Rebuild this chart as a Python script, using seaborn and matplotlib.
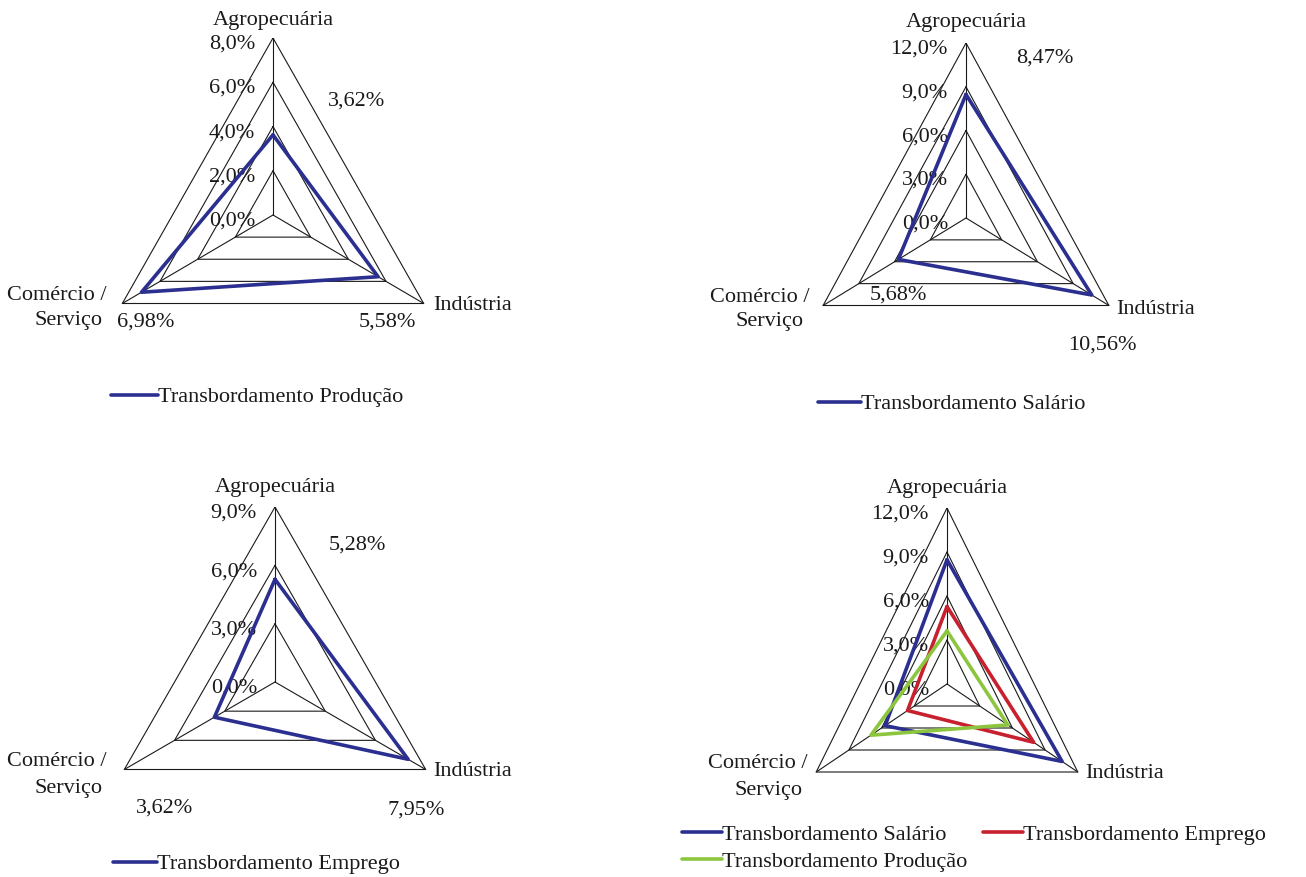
import numpy as np
import matplotlib
matplotlib.use("Agg")
import matplotlib.pyplot as plt
from matplotlib.lines import Line2D
import seaborn as sns

# ---- data -------------------------------------------------------------
categories = ["Agropecuária", "Indústria", "Comércio /\nServiço"]

producao = [3.62, 5.58, 6.98]   # Agropecuária, Indústria, Comércio / Serviço
salario = [8.47, 10.56, 5.68]
emprego = [5.28, 7.95, 3.62]

name_producao = "Transbordamento Produção"
name_salario = "Transbordamento Salário"
name_emprego = "Transbordamento Emprego"

ticks_producao = [0, 2, 4, 6, 8]
ticks_salario = [0, 3, 6, 9, 12]
ticks_emprego = [0, 3, 6, 9]
ticks_conjunto = [0, 3, 6, 9, 12]

BLUE = "#2B2F8F"
RED = "#C8202E"
GREEN = "#8CC63F"

# ---- style ------------------------------------------------------------
sns.set_theme(style="white")
plt.rcParams["font.family"] = ["Liberation Serif", "DejaVu Serif"]
FS = 16
TXT = "#1a1a1a"
plt.rcParams["font.size"] = FS

W, H = 1306, 877
fig = plt.figure(figsize=(W / 100, H / 100), dpi=100)
fig.patch.set_facecolor("white")

angles = np.deg2rad([0, 120, 240])  # clockwise from the top


def fx(x):
    return x / W


def fy(y):
    return 1 - y / H


def to_xy(values):
    v = np.asarray(values, dtype=float)
    x = v * np.sin(angles)
    y = v * np.cos(angles)
    return np.append(x, x[0]), np.append(y, y[0])


def radar_axes(cx, cy, rx, ry, ticks):
    vmax = ticks[-1]
    ax = fig.add_axes([fx(cx - rx), fy(cy + ry), 2 * rx / W, 2 * ry / H])
    ax.set_xlim(-vmax, vmax)
    ax.set_ylim(-vmax, vmax)
    ax.set_axis_off()
    # grid rings
    for t in ticks[1:]:
        gx, gy = to_xy([t, t, t])
        ax.plot(gx, gy, color="#1a1a1a", lw=0.8, zorder=1)
    # spokes
    for a in angles:
        ax.plot([0, vmax * np.sin(a)], [0, vmax * np.cos(a)],
                color="#1a1a1a", lw=0.8, zorder=1)
    # radial tick labels
    for t in ticks:
        ax.annotate(f"{t:.1f}%".replace(".", ","), xy=(0, t),
                    xytext=(-13, -4.5), textcoords="offset points",
                    ha="right", va="center", fontsize=FS, color=TXT,
                    zorder=2)
    return ax


def draw_series(ax, values, color):
    x, y = to_xy(values)
    sns.lineplot(x=x, y=y, sort=False, estimator=None, ax=ax,
                 color=color, lw=2.6, zorder=3, legend=False)


def category_labels(agro_xy, ind_xy, com_lines_xy):
    fig.text(fx(agro_xy[0]), fy(agro_xy[1]), categories[0],
             ha="center", va="center", fontsize=FS, color=TXT)
    fig.text(fx(ind_xy[0]), fy(ind_xy[1]), categories[1],
             ha="left", va="center", fontsize=FS, color=TXT)
    # the two-line label is set line by line
    for line, (px, py) in zip(categories[2].split("\n"), com_lines_xy):
        fig.text(fx(px), fy(py), line, ha="center", va="center",
                 fontsize=FS, color=TXT)


def value_labels(values, positions):
    for v, (px, py) in zip(values, positions):
        fig.text(fx(px), fy(py), f"{v:.2f}%".replace(".", ","),
                 ha="center", va="center", fontsize=FS, color=TXT)


def legend(entries, x, y, handlelength, ncol=1, columnspacing=0.7):
    handles = [Line2D([], [], color=c, lw=2.6) for _, c in entries]
    names = [n for n, _ in entries]
    leg = fig.legend(handles, names, loc="center left",
                     bbox_to_anchor=(fx(x), fy(y)),
                     bbox_transform=fig.transFigure,
                     frameon=False, fontsize=FS, handlelength=handlelength,
                     handletextpad=0.0, borderpad=0, borderaxespad=0,
                     ncol=ncol, columnspacing=columnspacing, labelspacing=0.3)
    for t in leg.get_texts():
        t.set_color(TXT)


# ---- panel 1: produção -------------------------------------------------
ax1 = radar_axes(273, 215, 174, 177, ticks_producao)
draw_series(ax1, producao, BLUE)
category_labels((273, 20), (433, 305), [(57, 296), (69, 321)])
value_labels(producao, [(357, 101), (387, 322), (146, 322)])
legend([(name_producao, BLUE)], 111, 397, 2.1)

# ---- panel 2: salário --------------------------------------------------
ax2 = radar_axes(966, 218, 165, 175, ticks_salario)
draw_series(ax2, salario, BLUE)
category_labels((966, 23), (1116, 309), [(760, 297), (770, 322)])
value_labels(salario, [(1045, 58), (1102, 345), (898, 295)])
legend([(name_salario, BLUE)], 818, 404, 1.95)

# ---- panel 3: emprego --------------------------------------------------
ax3 = radar_axes(275, 682, 174, 175, ticks_emprego)
draw_series(ax3, emprego, BLUE)
category_labels((275, 487), (433, 772), [(57, 762), (69, 788)])
value_labels(emprego, [(357, 545), (416, 810), (165, 808)])
legend([(name_emprego, BLUE)], 113, 864, 2.0)

# ---- panel 4: all series ----------------------------------------------
ax4 = radar_axes(947, 684, 151, 176, ticks_conjunto)
draw_series(ax4, salario, BLUE)
draw_series(ax4, emprego, RED)
draw_series(ax4, producao, GREEN)
category_labels((947, 488), (1085, 773), [(758, 763), (768, 790)])
legend([(name_salario, BLUE), (name_producao, GREEN), (name_emprego, RED)],
       682, 848, 1.8, ncol=2, columnspacing=0.72)

fig.savefig("out.png", dpi=100, facecolor="white")
